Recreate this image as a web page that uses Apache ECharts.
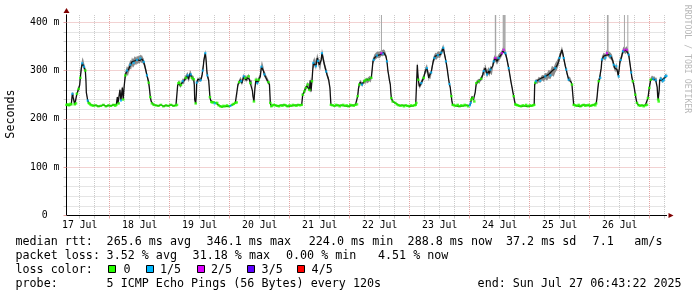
<!DOCTYPE html>
<html><head><meta charset="utf-8">
<script src="https://cdn.jsdelivr.net/npm/echarts@6/dist/echarts.min.js"></script>
<style>html,body{margin:0;padding:0;background:#fff}#c{width:697px;height:297px}</style>
</head><body><div id="c"></div>
<script>
// time axis in hours since 17 Jul 2025 00:00; shown range = 10 days ending Sun Jul 27 06:43:22
const rangeStart = 6.7228, rangeEnd = 246.7228;
const yMax = 415;

// sample times (hours)
const times = [
 6.72,7.2,7.7,8.2,8.65,9.05,9.6,10.0,10.5,10.9,11.3,11.6,12.0,12.25,12.65,13.0,13.2,13.5,13.7,14.0,14.25,14.5,14.65,15.2,15.6,15.85,16.4,16.9,17.5,18.5,19.5,20.5,21.5,22.5,23.5,24.5,25.5,26.2,
 26.65,27.05,27.3,27.6,28.1,28.5,29.05,29.4,29.8,30.25,30.6,30.9,31.3,31.6,32.0,32.25,32.6,32.9,33.3,33.6,34.0,34.25,34.6,34.9,35.3,35.6,36.0,36.25,36.6,36.9,37.3,37.6,38.0,38.25,38.9,39.3,39.6,40.0,40.25,40.6,40.9,41.6,42.5,43.5,44.5,45.5,46.5,47.5,48.5,49.5,50.5,
 50.9,51.2,51.5,51.85,52.2,52.5,52.85,53.2,53.5,53.85,54.2,54.5,54.85,55.2,55.5,55.85,56.1,56.4,56.65,56.9,57.3,57.6,57.85,58.0,58.4,58.65,58.8,59.3,59.6,60.0,60.4,60.7,61.0,61.2,61.5,61.7,62.0,62.25,62.45,62.65,62.85,63.05,63.3,63.6,63.85,64.1,64.4,64.65,65.1,65.6,66.0,66.5,
 67.0,67.6,68.3,68.9,69.5,70.2,70.9,71.6,72.3,73.0,73.6,74.25,74.8,75.3,75.8,76.3,76.6,76.9,77.3,77.6,77.9,78.25,78.6,78.9,79.25,79.6,79.9,80.25,80.6,80.9,81.1,81.3,81.7,81.9,82.1,82.5,82.8,83.05,83.3,83.6,83.9,84.25,84.5,84.7,84.9,85.1,85.3,85.6,85.85,86.2,86.5,86.85,87.2,87.5,87.9,88.1,88.25,88.65,89.1,89.6,90.3,91.0,91.7,92.4,93.1,93.8,94.5,95.2,95.9,96.6,97.3,98.0,98.7,99.4,100.1,100.8,
 101.2,101.55,101.9,102.2,102.5,102.85,103.2,103.5,103.9,104.2,104.5,104.9,105.2,105.45,105.7,106.0,106.25,106.5,106.75,107.0,107.3,107.6,107.9,108.25,108.6,108.9,109.25,109.6,109.9,110.25,110.6,110.9,111.25,111.6,111.85,112.1,112.3,112.5,113.2,113.9,114.6,115.3,116.0,116.7,117.4,118.1,118.8,119.5,120.2,120.9,121.6,122.3,122.9,
 123.2,123.5,123.85,124.2,124.5,124.9,125.2,125.5,125.85,126.25,126.5,126.9,127.2,127.6,128.0,128.3,128.65,128.95,129.3,129.6,129.85,130.2,130.5,130.9,131.3,131.7,132.25,132.65,133.0,133.2,133.6,134.0,134.5,134.9,135.3,135.6,135.85,136.25,136.45,136.65,137.2,137.7,138.25,138.9,139.6,140.3,141.0,141.7,142.4,143.1,143.8,144.5,145.2,145.9,146.4,
 146.65,147.05,147.25,147.45,147.85,148.25,148.65,149.1,149.6,149.9,150.25,150.6,150.9,151.25,151.6,151.9,152.25,152.6,152.9,153.25,153.6,153.9,154.25,154.6,154.9,155.25,155.6,155.9,156.25,156.6,156.9,157.2,157.45,157.7,157.95,158.25,158.5,158.8,159.05,159.35,159.6,159.9,160.25,160.45,160.65,160.9,161.2,161.8,162.5,163.2,163.9,164.6,165.3,166.0,166.7,167.4,168.1,
 168.4,168.65,168.9,169.2,169.5,169.85,170.2,170.65,171.1,171.6,171.9,172.25,172.6,172.9,173.25,173.6,173.9,174.25,174.6,174.9,175.25,175.6,175.9,176.25,176.6,176.9,177.25,177.6,177.9,178.25,178.6,178.9,179.25,179.6,179.9,180.25,180.6,180.9,181.25,181.6,181.9,182.25,182.6,182.9,183.25,183.6,183.9,184.25,184.6,184.9,185.25,185.6,185.9,186.25,186.7,187.2,187.8,188.5,189.2,189.9,190.6,191.3,192.0,192.7,193.3,193.8,
 194.0,194.25,194.5,195.0,195.6,196.25,196.9,197.6,198.25,198.9,199.6,200.25,200.9,201.6,202.25,202.9,203.6,203.9,204.25,204.6,204.9,205.25,205.6,205.9,206.25,206.6,206.9,207.25,207.6,207.9,208.25,208.6,208.9,209.25,209.6,210.25,210.9,211.6,212.25,212.9,213.6,214.25,214.9,215.6,216.25,216.9,217.6,218.25,
 218.6,218.9,219.25,219.6,219.9,220.25,220.6,220.9,221.25,221.6,221.9,222.25,222.6,222.9,223.25,223.6,223.9,224.25,224.6,224.9,225.25,225.6,225.9,226.25,226.45,226.65,226.9,227.2,227.4,227.6,227.85,228.1,228.4,228.65,229.0,229.3,229.6,229.85,230.05,230.25,230.6,230.9,231.25,231.6,231.9,232.25,232.6,232.9,233.25,233.6,233.9,234.25,234.6,234.9,235.6,236.25,236.9,237.6,238.25,238.9,
 239.3,239.6,239.85,240.1,240.4,240.9,241.4,242.0,242.4,242.8,243.0,243.2,243.4,243.6,243.8,244.0,244.5,244.9,245.2,245.5,245.7,246.0,246.25,246.72
];

// median RTT (ms)
const medianMs = [
 229,230,228,231,230,252,250,230,232,252,258,262,270,285,305,315,318,312,308,304,300,280,255,238,233,232,229,228,227,228,226,227,229,226,228,227,229,227,
 229,245,232,232,260,238,265,240,268,290,296,300,296,303,308,312,310,318,314,316,320,320,318,322,320,323,321,325,322,324,320,318,310,305,290,282,275,258,245,236,232,229,228,227,229,226,228,227,229,227,228,
 229,270,274,275,268,270,274,278,276,280,284,285,288,290,282,286,294,292,288,285,284,282,270,240,232,250,275,282,278,283,280,285,292,300,312,322,330,336,328,315,300,290,285,280,262,245,238,235,234,234,232,233,
 233,228,226,225,227,226,228,226,227,229,231,233,234,271,276,281,278,274,282,288,284,285,280,285,283,288,282,274,276,274,258,247,236,250,264,281,277,274,278,281,285,288,300,308,312,307,305,298,292,290,285,282,278,276,271,250,233,226,228,229,228,227,226,228,227,229,228,226,228,227,229,228,227,229,228,229,
 250,254,257,262,264,268,271,266,260,280,257,278,300,316,312,319,314,309,318,326,320,316,312,309,322,336,328,319,312,305,298,292,286,281,272,264,245,229,228,227,229,228,226,228,229,227,228,226,229,228,227,229,230,
 247,262,271,276,274,271,271,276,278,274,281,278,279,281,283,280,285,300,319,322,326,328,330,331,333,331,333,336,336,335,337,336,330,319,299,290,281,271,255,243,236,234,233,230,228,227,228,226,228,227,226,228,227,228,229,
 233,312,295,281,267,270,274,280,285,292,299,302,305,296,285,290,288,296,305,315,323,326,330,328,330,332,333,331,333,337,340,344,347,340,333,326,319,310,302,290,281,272,264,255,247,236,229,228,227,229,226,228,227,229,228,226,228,
 233,240,246,243,240,236,255,274,276,278,276,281,283,285,292,299,296,305,298,292,296,299,294,302,298,299,310,319,322,326,322,319,322,326,328,330,333,336,340,343,340,336,330,323,314,305,296,285,274,266,256,247,238,230,229,228,227,226,228,227,229,226,228,227,228,229,
 271,275,278,276,281,279,285,283,288,286,292,290,299,296,305,310,319,326,333,338,343,335,326,318,309,302,295,288,281,283,281,276,271,250,229,228,227,229,226,228,229,227,228,229,227,228,229,228,
 232,243,262,278,283,285,305,323,326,330,328,326,332,336,335,333,331,330,328,326,320,312,306,302,306,309,302,295,290,288,305,319,322,326,334,340,342,343,341,340,342,343,338,333,322,309,296,285,278,271,262,250,240,233,228,227,228,226,228,229,
 243,255,264,272,281,285,283,283,280,281,265,247,240,236,260,281,283,280,278,282,281,285,288,289
];

// loss colour level of each sample: 0 = none lost, 1 = 1/5, 2 = 2/5, -1 = no loss marker visible
const lossCode = [
 0,0,0,0,0,1,-1,0,0,0,-1,0,-1,0,-1,1,-1,-1,1,-1,0,-1,-1,1,0,0,0,0,0,0,0,0,0,0,0,0,0,0,
 0,-1,-1,0,-1,1,-1,0,-1,0,-1,1,-1,-1,-1,1,-1,-1,-1,1,-1,-1,-1,1,-1,-1,-1,1,-1,-1,-1,1,-1,-1,1,-1,0,-1,0,-1,0,0,0,0,0,0,0,0,0,0,0,
 0,-1,0,0,-1,0,-1,1,-1,-1,-1,0,-1,1,-1,-1,-1,1,-1,0,-1,0,-1,-1,0,-1,1,-1,-1,-1,1,-1,-1,1,-1,-1,-1,1,-1,-1,-1,1,-1,-1,-1,0,-1,0,0,0,1,0,
 0,0,0,0,0,0,0,0,1,0,0,0,0,-1,0,-1,1,-1,-1,1,-1,0,-1,-1,-1,0,-1,0,-1,-1,-1,-1,0,-1,-1,0,-1,1,-1,0,-1,-1,-1,1,-1,-1,-1,-1,1,-1,-1,-1,-1,0,-1,-1,0,0,0,0,0,0,0,0,0,0,0,0,0,0,0,0,0,0,0,0,
 0,-1,0,-1,0,-1,0,-1,0,-1,-1,0,-1,1,-1,-1,-1,1,-1,-1,1,-1,-1,-1,-1,1,-1,-1,-1,-1,1,-1,-1,-1,-1,-1,-1,0,0,0,0,0,0,0,0,0,0,0,0,0,0,0,0,
 0,-1,0,-1,-1,1,-1,-1,0,-1,0,-1,-1,0,-1,-1,0,-1,-1,1,-1,-1,-1,1,-1,-1,-1,2,-1,1,-1,-1,-1,1,-1,-1,-1,-1,-1,0,0,-1,0,0,0,0,0,0,0,0,0,0,0,0,0,
 0,-1,-1,0,-1,-1,1,-1,0,-1,-1,-1,1,-1,-1,-1,-1,1,-1,-1,-1,1,-1,-1,-1,1,-1,-1,-1,1,-1,-1,1,-1,-1,-1,1,-1,-1,-1,-1,1,-1,-1,0,-1,0,0,0,0,0,0,0,0,0,0,1,
 1,0,-1,0,-1,0,-1,0,-1,0,-1,-1,0,-1,-1,1,-1,-1,-1,1,-1,-1,-1,1,-1,-1,-1,1,-1,2,-1,-1,-1,1,-1,-1,-1,2,-1,2,-1,1,-1,-1,-1,1,-1,-1,-1,-1,-1,0,-1,0,0,0,0,0,0,0,0,0,0,0,0,0,
 -1,0,1,-1,-1,1,-1,-1,1,-1,-1,1,-1,-1,1,-1,-1,1,-1,-1,-1,-1,1,-1,-1,1,-1,-1,1,-1,-1,-1,0,-1,0,0,0,0,0,0,0,0,0,0,0,0,0,0,
 0,-1,-1,0,-1,1,-1,1,-1,-1,-1,1,-1,2,-1,-1,-1,1,-1,-1,-1,1,-1,-1,-1,1,-1,-1,-1,1,-1,-1,1,-1,-1,1,-1,2,-1,-1,-1,2,-1,1,-1,-1,1,-1,0,-1,-1,0,-1,0,0,0,0,0,0,0,
 0,-1,0,-1,0,-1,1,-1,1,-1,-1,-1,0,0,-1,-1,1,-1,1,-1,1,-1,1,1
];

// smoke (ping spread around the median, ms)
const smokeSpread = [
 1,1,1,1,1,3,3,2,2,3,4,4,5,6,8,8,8,8,7,6,6,4,3,2,2,1,1,1,1,1,1,1,1,1,1,1,1,1,
 1,3,2,2,4,3,4,3,5,6,7,8,8,8,8,8,8,8,8,8,8,7,7,7,7,7,7,7,7,7,6,6,6,6,5,4,4,3,2,2,1,1,1,1,1,1,1,1,1,1,1,
 1,4,4,4,4,4,4,5,5,5,5,5,6,6,6,6,6,6,6,5,5,5,4,3,2,3,4,4,4,4,4,4,5,6,6,6,6,6,6,5,5,4,4,4,3,2,2,2,1,1,1,1,
 1,1,1,1,1,1,1,1,1,1,1,1,1,4,4,5,5,5,5,5,5,5,5,5,5,5,5,4,4,4,3,3,2,3,4,5,5,5,5,5,5,5,6,7,7,7,6,6,6,5,5,5,5,4,4,3,2,1,1,1,1,1,1,1,1,1,1,1,1,1,1,1,1,1,1,1,
 3,3,4,4,4,4,5,5,5,6,5,6,7,8,8,8,8,8,8,8,8,8,8,8,8,8,8,7,7,6,6,5,5,5,4,3,2,1,1,1,1,1,1,1,1,1,1,1,1,1,1,1,1,
 3,4,4,4,4,4,4,4,4,4,4,5,5,5,5,5,5,6,6,6,6,6,6,6,6,6,6,6,6,6,6,5,5,5,4,4,4,3,3,2,2,1,1,1,1,1,1,1,1,1,1,1,1,1,1,
 1,6,5,5,5,5,5,5,5,6,6,7,7,7,7,6,6,6,6,6,6,6,6,6,6,6,6,6,6,6,6,6,6,6,5,5,5,5,4,4,4,3,3,2,2,2,1,1,1,1,1,1,1,1,1,1,1,
 1,2,2,2,2,2,3,4,4,4,4,4,4,5,6,7,7,7,7,7,7,7,7,7,7,7,7,7,7,7,7,7,7,7,7,6,6,6,6,6,6,6,6,5,5,5,4,4,4,3,3,2,2,1,1,1,1,1,1,1,1,1,1,1,1,1,
 3,4,4,4,5,5,5,6,6,7,8,8,9,9,9,9,8,7,6,6,6,6,6,5,5,5,5,4,4,4,4,4,3,2,1,1,1,1,1,1,1,1,1,1,1,1,1,1,
 1,3,4,5,5,5,6,6,6,6,6,6,6,6,6,6,6,6,6,6,6,6,6,6,6,6,6,6,6,6,6,6,6,6,6,6,6,6,6,6,6,6,6,6,5,5,5,4,4,3,3,2,2,1,1,1,1,1,1,1,
 3,3,4,4,4,4,4,4,4,4,3,3,2,2,3,4,4,4,4,4,4,4,4,4
];

// tall smoke spikes (single outlier pings): start hour, end hour, bottom ms, top ms
const spikeStart = [132.5, 178.05, 181.2, 181.75, 222.9, 229.7, 231.05];
const spikeEnd   = [132.9, 178.6, 181.7, 182.35, 223.55, 230.0, 231.35];
const spikeLow   = [336, 324, 340, 338, 336, 342, 342];
const spikeHigh  = [415, 415, 415, 415, 415, 415, 415];

// axes
const dayLabelHours = [12, 36, 60, 84, 108, 132, 156, 180, 204, 228];
const dayLabels = ['17 Jul','18 Jul','19 Jul','20 Jul','21 Jul','22 Jul','23 Jul','24 Jul','25 Jul','26 Jul'];
const midnightHours = [24, 48, 72, 96, 120, 144, 168, 192, 216, 240];
const sixHourStep = 6;
const yTickValues = [0, 100, 200, 300, 400];
const yTickLabels = ['0  ', '100 m', '200 m', '300 m', '400 m'];
const yMinorStep = 20;

// legend
const lossNames = ['0', '1/5', '2/5', '3/5', '4/5'];
const lossColors = ['#26ff00', '#00b8ff', '#dd00ff', '#5e00ff', '#ff0000'];
const legendRow1 = ['median rtt:', '265.6 ms avg', '346.1 ms max', '224.0 ms min', '288.8 ms now', '37.2 ms sd', '7.1', 'am/s'];
const legendRow2 = ['packet loss:', '3.52 % avg', '31.18 % max', '0.00 % min', '4.51 % now'];
const legendRow3Title = 'loss color:';
const legendRow4 = ['probe:', '5 ICMP Echo Pings (56 Bytes) every 120s', 'end: Sun Jul 27 06:43:22 2025'];
const yTitle = 'Seconds';
const watermark = 'RRDTOOL / TOBI OETIKER';

// ---------- build ----------
const N = Math.min(times.length, medianMs.length, lossCode.length, smokeSpread.length);
const medianData = [], smokeData = [];
const dotData = [[], [], [], [], []];
for (let i = 0; i < N; i++) {
  const t = times[i], v = medianMs[i], s = smokeSpread[i];
  medianData.push([t, v]);
  smokeData.push([t, v - s, v + s * 1.2]);
  if (lossCode[i] >= 0) dotData[lossCode[i]].push([t, v]);
}
const spikeData = spikeStart.map((s, i) => [s, spikeEnd[i], spikeLow[i], spikeHigh[i]]);

const minorX = [];
for (let h = Math.ceil(rangeStart / sixHourStep) * sixHourStep; h <= rangeEnd; h += sixHourStep) {
  if (midnightHours.indexOf(h) < 0) minorX.push(h);
}
const minorY = [];
for (let v = yMinorStep; v <= 400; v += yMinorStep) if (yTickValues.indexOf(v) < 0) minorY.push(v);

const FONT = '"DejaVu Sans Mono", monospace';
const minorGrid = '#cacaca', majorGrid = '#e4a4a4', arrowCol = '#7f0000';

const graphics = [];
function txt(x, y, s, opts) {
  graphics.push(Object.assign({ type: 'text', x: x, y: y, silent: true,
    style: Object.assign({ text: s, font: '11.7px ' + FONT, fill: '#000', align: 'left', verticalAlign: 'middle' }, (opts && opts.style) || {}) },
    (opts && opts.rotation !== undefined) ? { rotation: opts.rotation } : {}));
}
const row1X = [15.5, 106.6, 206.6, 308.8, 407.6, 506, 592.6, 634.3];
legendRow1.forEach((s, i) => txt(row1X[i], 241.5, s));
const row2X = [15.5, 106.6, 192.6, 286, 378];
legendRow2.forEach((s, i) => txt(row2X[i], 255.7, s));
txt(15.5, 269.9, legendRow3Title);
const boxX = [108.5, 146.5, 197.5, 247.5, 297.5];
const nameX = [123.4, 160, 211, 261.6, 311.6];
lossNames.forEach((n, i) => {
  graphics.push({ type: 'rect', silent: true, shape: { x: boxX[i], y: 265.5, width: 7, height: 7 },
    style: { fill: lossColors[i], stroke: '#000', lineWidth: 1 } });
  txt(nameX[i], 269.9, n);
});
const row4X = [15.5, 106.6, 477.6];
legendRow4.forEach((s, i) => txt(row4X[i], 284.1, s));
txt(11, 114, yTitle, { rotation: Math.PI / 2, style: { align: 'center' } });
txt(687, 59, watermark, { rotation: -Math.PI / 2, style: { align: 'center', font: '8.2px ' + FONT, fill: '#b8b8b8' } });

const gridPos = { left: 66.5, top: 15, width: 600, height: 200.5, containLabel: false, outerBoundsMode: 'none' };

const option = {
  animation: false,
  backgroundColor: '#ffffff',
  textStyle: { fontFamily: FONT },
  grid: gridPos,
  xAxis: [
    { type: 'value', min: rangeStart, max: rangeEnd, position: 'bottom', z: 3,
      axisLine: { show: true, onZero: false, lineStyle: { color: '#000', width: 1 } },
      axisTick: { show: true, length: 3, customValues: midnightHours, lineStyle: { color: majorGrid } },
      splitLine: { show: true, lineStyle: { color: majorGrid, type: [1, 1], width: 1 } },
      axisLabel: { show: true, customValues: dayLabelHours, margin: 4, lineHeight: 11, fontSize: 9.8, color: '#000', fontFamily: FONT,
        formatter: v => dayLabels[dayLabelHours.indexOf(v)] || '' } },
    { type: 'value', min: rangeStart, max: rangeEnd, position: 'bottom', z: 1,
      axisLine: { show: true, onZero: false, symbol: ['none', 'triangle'], symbolSize: [5, 5], symbolOffset: [0, 4.5], lineStyle: { color: arrowCol, width: 1 } },
      axisTick: { show: true, length: 3, customValues: minorX, lineStyle: { color: minorGrid } },
      splitLine: { show: true, lineStyle: { color: minorGrid, type: [1, 1], width: 1 } },
      axisLabel: { show: false } }
  ],
  yAxis: [
    { type: 'value', min: 0, max: yMax, position: 'left', z: 3,
      axisLine: { show: true, onZero: false, lineStyle: { color: '#000', width: 1 } },
      axisTick: { show: true, length: 3, customValues: yTickValues, lineStyle: { color: majorGrid } },
      splitLine: { show: true, lineStyle: { color: majorGrid, type: [1, 1], width: 1 } },
      axisLabel: { show: true, customValues: yTickValues, margin: 7, fontSize: 9.8, color: '#000', fontFamily: FONT,
        formatter: v => yTickLabels[yTickValues.indexOf(v)] || '' } },
    { type: 'value', min: 0, max: yMax, position: 'left', z: 1,
      axisLine: { show: true, onZero: false, symbol: ['none', 'triangle'], symbolSize: [6, 5], symbolOffset: [0, 4.5], lineStyle: { color: arrowCol, width: 1 } },
      axisTick: { show: true, length: 3, customValues: minorY, lineStyle: { color: minorGrid } },
      splitLine: { show: true, lineStyle: { color: minorGrid, type: [1, 1], width: 1 } },
      axisLabel: { show: false } }
  ],
  series: [
    { type: 'custom', name: 'smoke', data: smokeData, silent: true, z: 5, xAxisIndex: 0, yAxisIndex: 0,
      encode: { x: 0, y: [1, 2] },
      renderItem: (params, api) => {
        if (params.dataIndex !== 0) return null;
        const upper = [], lower = [];
        for (let i = 0; i < smokeData.length; i++) {
          upper.push(api.coord([smokeData[i][0], smokeData[i][2]]));
          lower.push(api.coord([smokeData[i][0], smokeData[i][1]]));
        }
        return { type: 'polygon', shape: { points: upper.concat(lower.reverse()) }, style: { fill: '#8a8a8a' } };
      } },
    { type: 'custom', name: 'spikes', data: spikeData, silent: true, z: 5, xAxisIndex: 0, yAxisIndex: 0,
      encode: { x: [0, 1], y: [2, 3] },
      renderItem: (params, api) => {
        const p0 = api.coord([api.value(0), api.value(3)]);
        const p1 = api.coord([api.value(1), api.value(2)]);
        return { type: 'rect', shape: { x: p0[0], y: p0[1], width: Math.max(1, p1[0] - p0[0]), height: p1[1] - p0[1] },
          style: { fill: '#a6a6a6' } };
      } },
    { type: 'line', name: 'median', data: medianData, symbol: 'none', silent: true, z: 6,
      lineStyle: { color: '#111', width: 1.3 }, xAxisIndex: 0, yAxisIndex: 0 },
    ...dotData.map((d, i) => ({ type: 'scatter', name: lossNames[i], data: d, symbol: 'rect',
      symbolSize: i === 0 ? [2.6, 2.4] : [2.2, 2.2], silent: true, z: 7,
      itemStyle: { color: lossColors[i] }, xAxisIndex: 0, yAxisIndex: 0 }))
  ],
  graphic: { elements: graphics }
};

const chart = echarts.init(document.getElementById('c'), null, { renderer: 'canvas', width: 697, height: 297 });
chart.setOption(option);
</script></body></html>
